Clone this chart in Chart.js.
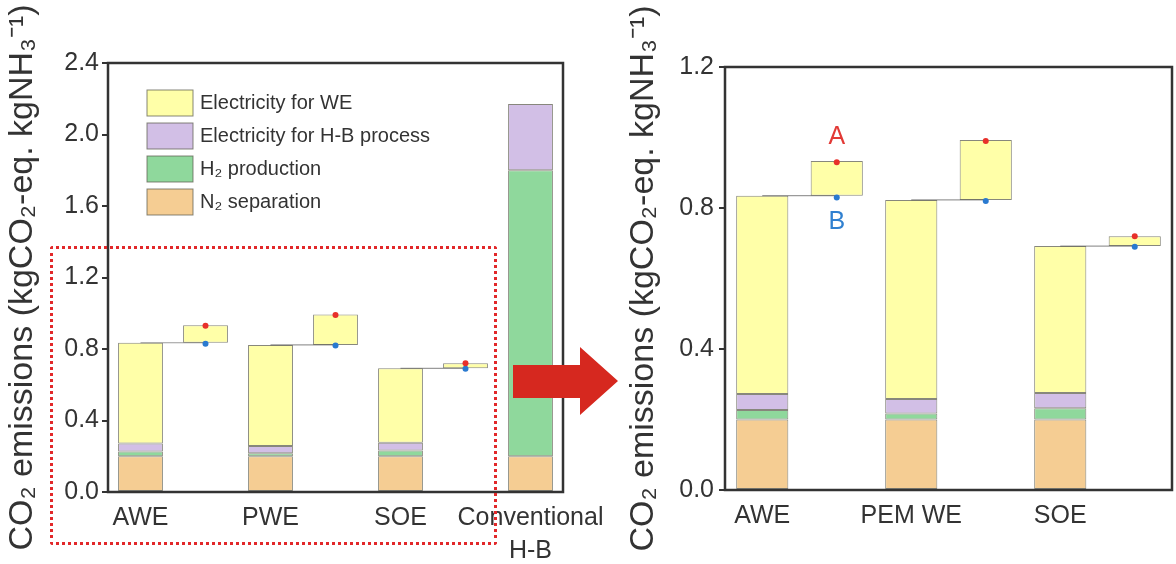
<!DOCTYPE html>
<html>
<head>
<meta charset="utf-8">
<script src="https://cdn.jsdelivr.net/npm/chart.js@4.4.1/dist/chart.umd.min.js"></script>
<style>
  body { margin: 0; background: #fff; }
  #page { position: relative; width: 1176px; height: 564px; overflow: hidden; background: #fff; }
  .box { position: absolute; top: 0; height: 564px; }
  #leftBox { left: 0; width: 640px; }
  #rightBox { left: 600px; width: 576px; }
  #zoomFrame { position: absolute; left: 50px; top: 246px; width: 441px; height: 293px;
    border: 3px dotted #e2282a; border-radius: 3px; pointer-events: none; }
  #arrow { position: absolute; left: 0; top: 0; pointer-events: none; }
</style>
</head>
<body>
<div id="page">
  <div class="box" id="leftBox"><canvas id="leftChart"></canvas></div>
  <div class="box" id="rightBox"><canvas id="rightChart"></canvas></div>
  <div id="zoomFrame"></div>
  <svg id="arrow" width="1176" height="564">
    <polygon points="513,365 580,365 580,347 618,381 580,415 580,398 513,398" fill="#d6281f"/>
  </svg>
</div>
<script>
const leftCategories = ['AWE', '', 'PWE', '', 'SOE', '', ['Conventional', 'H-B']];
const rightCategories = ['AWE', '', 'PEM WE', '', 'SOE', ''];

// stacked segments: AWE, PEM WE (PWE), SOE, Conventional H-B
const n2Separation = [0.200, 0.200, 0.200, 0.200];
const h2Production = [0.027, 0.017, 0.032, 1.600];
const hbElectricity = [0.045, 0.041, 0.043, 0.370];
const weElectricity = [0.563, 0.565, 0.417, null];

// floating box for electricity for WE (top), and the A / B points
const weRangeTop = [0.933, 0.993, 0.720];
const pointA = [0.930, 0.990, 0.720];
const pointB = [0.830, 0.820, 0.690];

const leftYTicks = [0, 0.4, 0.8, 1.2, 1.6, 2.0, 2.4];
const rightYTicks = [0, 0.4, 0.8, 1.2];

const yTitle = 'CO\u2082 emissions (kgCO\u2082-eq. kgNH\u2083\u207B\u00B9)';

window.onload = function() {
  Chart.defaults.font.family = "'Liberation Sans', Arial, sans-serif";
  Chart.defaults.color = '#333';

  const colors = { we: '#ffffa8', hb: '#d2bfe6', h2: '#8fd89c', n2: '#f5cd93' };
  const edge = 'rgba(95,95,80,0.75)';

  const totals = n2Separation.map((v, i) =>
    v + h2Production[i] + hbElectricity[i] + (weElectricity[i] || 0));

  function toSlots(values, slots, offset) {
    const out = new Array(slots).fill(null);
    values.forEach((v, i) => { if (i * 2 + offset < slots) out[i * 2 + offset] = v; });
    return out;
  }

  function connectorData(slots) {
    const out = new Array(slots).fill(null);
    weRangeTop.forEach((t, i) => { out[i * 2] = totals[i]; out[i * 2 + 1] = totals[i]; });
    return out;
  }

  function buildDatasets(slots, barPct) {
    const bar = (label, data, color) => ({
      type: 'bar', label: label, data: data, backgroundColor: color,
      borderColor: edge, borderWidth: 1, borderSkipped: false,
      barPercentage: barPct, categoryPercentage: 1, order: 1
    });
    return [
      bar('N\u2082 separation', toSlots(n2Separation, slots, 0), colors.n2),
      bar('H\u2082 production', toSlots(h2Production, slots, 0), colors.h2),
      bar('Electricity for H-B process', toSlots(hbElectricity, slots, 0), colors.hb),
      bar('Electricity for WE', toSlots(weElectricity, slots, 0), colors.we),
      bar('Electricity for WE (range)', toSlots(weRangeTop.map((t, i) => [totals[i], t]), slots, 1), colors.we),
      {
        type: 'line', label: 'connector', data: connectorData(slots), stack: 'conn',
        borderColor: '#9a9a9a', borderWidth: 1.2, pointRadius: 0, order: 3,
        segment: { borderColor: ctx => ctx.p0DataIndex % 2 === 1 ? 'transparent' : '#9a9a9a' }
      },
      {
        type: 'line', label: 'A', data: toSlots(pointA, slots, 1), stack: 'a', showLine: false,
        pointRadius: 3, pointBorderWidth: 0, pointBackgroundColor: '#e8302a', order: 0
      },
      {
        type: 'line', label: 'B', data: toSlots(pointB, slots, 1), stack: 'b', showLine: false,
        pointRadius: 3, pointBorderWidth: 0, pointBackgroundColor: '#2a7ad0', order: 0
      }
    ];
  }

  function buildOptions(cfg) {
    const ticks = cfg.ticks;
    return {
      responsive: true,
      maintainAspectRatio: false,
      animation: false,
      layout: { padding: { left: 0, top: cfg.top, right: cfg.right, bottom: 0 } },
      plugins: { legend: { display: false }, tooltip: { enabled: false } },
      scales: {
        x: {
          stacked: true,
          grid: { display: false, drawTicks: false },
          border: { display: false },
          ticks: { autoSkip: false, maxRotation: 0, minRotation: 0, padding: 10,
                   color: '#333', font: { size: 25, lineHeight: 1.3 } },
          afterFit: s => { s.height = cfg.xHeight; }
        },
        y: {
          stacked: true,
          min: ticks[0],
          max: ticks[ticks.length - 1],
          ticks: { stepSize: ticks[1] - ticks[0], callback: v => v.toFixed(1),
                   padding: cfg.tickPad, color: '#333', font: { size: 25 } },
          grid: { drawOnChartArea: false, drawTicks: true, tickLength: 6, color: '#333', lineWidth: 2 },
          border: { display: false },
          title: { display: true, text: yTitle, color: '#333', font: { size: 34 },
                   padding: { top: cfg.titlePad, bottom: 0 } },
          afterFit: s => { s.width = cfg.yWidth; }
        }
      }
    };
  }

  const framePlugin = {
    id: 'frame',
    afterDatasetsDraw(chart) {
      const a = chart.chartArea, ctx = chart.ctx;
      ctx.save();
      ctx.strokeStyle = '#333';
      ctx.lineWidth = 2.5;
      ctx.strokeRect(a.left, a.top, a.right - a.left, a.bottom - a.top);
      ctx.restore();
    }
  };

  const legendPlugin = {
    id: 'insideLegend',
    afterDraw(chart) {
      const ctx = chart.ctx, a = chart.chartArea;
      ctx.save();
      ctx.font = "20px 'Liberation Sans', Arial, sans-serif";
      ctx.textBaseline = 'middle';
      [3, 2, 1, 0].forEach((idx, k) => {
        const ds = chart.data.datasets[idx];
        const y = a.top + 40 + k * 33;
        ctx.fillStyle = ds.backgroundColor;
        ctx.fillRect(a.left + 39, y - 13, 46, 26);
        ctx.strokeStyle = edge;
        ctx.lineWidth = 1;
        ctx.strokeRect(a.left + 39, y - 13, 46, 26);
        ctx.fillStyle = '#333';
        ctx.fillText(ds.label, a.left + 92, y);
      });
      ctx.restore();
    }
  };

  const abPlugin = {
    id: 'abLabels',
    afterDatasetsDraw(chart) {
      const ctx = chart.ctx;
      const pa = chart.getDatasetMeta(6).data[1];
      const pb = chart.getDatasetMeta(7).data[1];
      ctx.save();
      ctx.font = "25px 'Liberation Sans', Arial, sans-serif";
      ctx.textAlign = 'center';
      ctx.textBaseline = 'middle';
      ctx.fillStyle = '#e23a36';
      ctx.fillText('A', pa.x, pa.y - 25);
      ctx.fillStyle = '#3080d0';
      ctx.fillText('B', pb.x, pb.y + 25);
      ctx.restore();
    }
  };

  new Chart(document.getElementById('leftChart'), {
    type: 'bar',
    data: { labels: leftCategories, datasets: buildDatasets(leftCategories.length, 0.69) },
    options: buildOptions({ ticks: leftYTicks, top: 63, right: 77, xHeight: 72, yWidth: 108, tickPad: 3, titlePad: 2 }),
    plugins: [framePlugin, legendPlugin]
  });

  new Chart(document.getElementById('rightChart'), {
    type: 'bar',
    data: { labels: rightCategories, datasets: buildDatasets(rightCategories.length, 0.7) },
    options: buildOptions({ ticks: rightYTicks, top: 67, right: 1, xHeight: 74, yWidth: 125, tickPad: 5, titlePad: 23 }),
    plugins: [framePlugin, abPlugin]
  });
};
</script>
</body>
</html>
